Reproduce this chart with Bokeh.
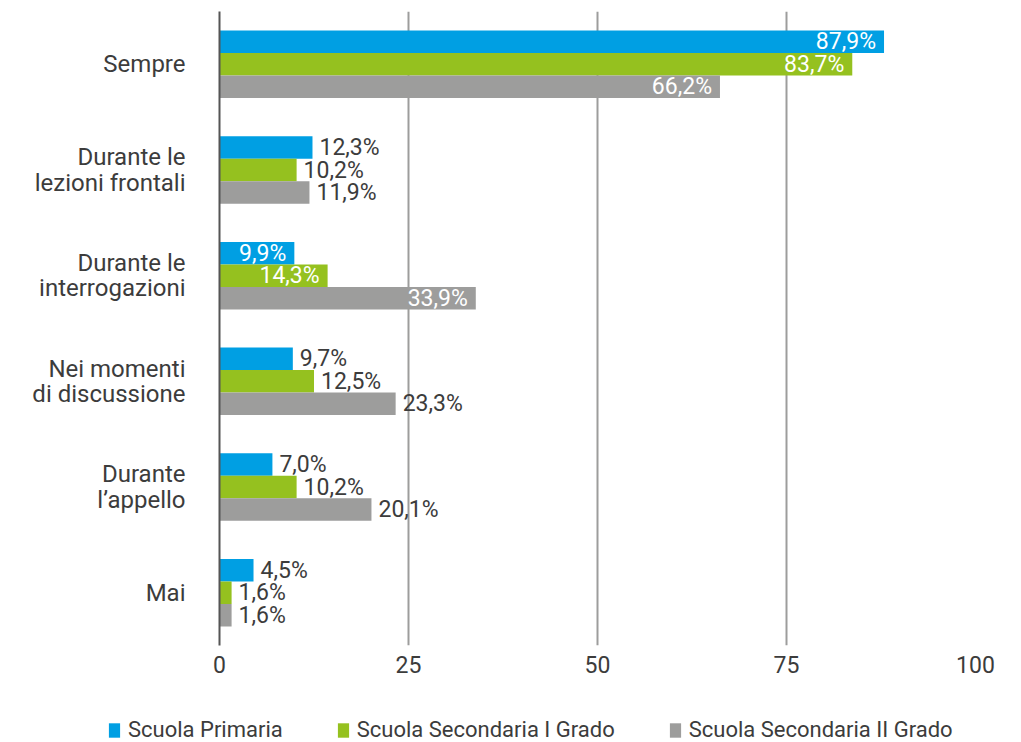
from bokeh.plotting import figure
from bokeh.layouts import column
from bokeh.models import ColumnDataSource, FactorRange, Range1d, FixedTicker, Legend, LegendItem
from bokeh.transform import dodge
from bokeh.core.properties import value
from bokeh.embed import file_html
from bokeh.resources import INLINE

# ---- data ----
categories = ["Sempre", "Durante le\nlezioni frontali", "Durante le\ninterrogazioni",
              "Nei momenti\ndi discussione", "Durante\nl\u2019appello", "Mai"]
series_names = ["Scuola Primaria", "Scuola Secondaria I Grado", "Scuola Secondaria II Grado"]
primaria = [87.9, 12.3, 9.9, 9.7, 7.0, 4.5]
secondaria_1 = [83.7, 10.2, 14.3, 12.5, 10.2, 1.6]
secondaria_2 = [66.2, 11.9, 33.9, 23.3, 20.1, 1.6]
x_ticks = [0, 25, 50, 75, 100]

# label placement (inside bar end = True)
inside_primaria = [True, False, True, False, False, False]
inside_sec1 = [True, False, True, False, False, False]
inside_sec2 = [True, False, True, False, False, False]

colors = ["#009FE3", "#95C11F", "#9D9D9C"]
offsets = [0.213, 0.0, -0.213]
bar_h = 0.213
FONT = "Roboto"
TXT = "#3c3c3c"

p = figure(
    y_range=FactorRange(factors=list(reversed(categories)), range_padding=0),
    x_range=Range1d(0, 100),
    frame_width=756, frame_height=634,
    min_border_left=219, min_border_right=46, min_border_top=11, min_border_bottom=53,
    output_backend="svg", toolbar_location=None,
)
p.outline_line_color = None
p.background_fill_color = "white"

all_series = [primaria, secondaria_1, secondaria_2]
all_inside = [inside_primaria, inside_sec1, inside_sec2]
for vals, inside, col, off in zip(all_series, all_inside, colors, offsets):
    src = ColumnDataSource(dict(
        cat=categories, val=vals,
        lab=[f"{v:.1f}".replace(".", ",") + "%" for v in vals],
        align=["right" if i else "left" for i in inside],
        xoff=[-8 if i else 7 for i in inside],
        tcol=["white" if i else TXT for i in inside],
    ))
    p.hbar(y=dodge("cat", off, range=p.y_range), right="val", left=0, height=bar_h,
           source=src, fill_color=col, line_color=None)
    p.text(x="val", y=dodge("cat", off, range=p.y_range), text="lab", source=src,
           text_align="align", x_offset="xoff", text_color="tcol",
           text_baseline="middle", text_font=value(FONT), text_font_size="23px")

# axes
p.xaxis.ticker = FixedTicker(ticks=x_ticks)
p.xaxis.axis_line_color = None
p.xaxis.major_tick_line_color = None
p.xaxis.minor_tick_line_color = None
p.xaxis.major_label_text_font = FONT
p.xaxis.major_label_text_font_size = "23px"
p.xaxis.major_label_text_color = TXT
p.xaxis.major_label_standoff = 4

p.yaxis.axis_line_color = "#555555"
p.yaxis.axis_line_width = 2
p.yaxis.major_tick_line_color = None
p.yaxis.minor_tick_line_color = None
p.yaxis.major_label_text_font = FONT
p.yaxis.major_label_text_font_size = "24px"
p.yaxis.major_label_text_color = TXT
p.yaxis.major_label_text_line_height = 0.9
p.yaxis.major_label_standoff = 28
p.yaxis.major_label_text_align = "right"

p.xgrid.grid_line_color = "#9D9D9C"
p.xgrid.grid_line_width = 2
p.ygrid.grid_line_color = None

# ---- legend strip (separate small figure below) ----
lg = figure(width=1021, height=44, x_range=Range1d(0, 1), y_range=Range1d(0, 1),
            min_border=0, output_backend="svg", toolbar_location=None)
lg.axis.visible = False
lg.grid.visible = False
lg.outline_line_color = None
for fig in (p, lg):
    if hasattr(fig, "frame_align"):
        fig.frame_align = False
# zero-length placeholder bars, only used as legend swatches
leg_renderers = [lg.hbar(y=[0.5], right=[0], left=[0], height=0.5, fill_color=c, line_color=None)
                 for c in colors]
legend = Legend(
    items=[LegendItem(label=n, renderers=[r]) for n, r in zip(series_names, leg_renderers)],
    orientation="horizontal", location=(107, 0),
    glyph_width=14, glyph_height=18, label_standoff=7, spacing=53,
    label_text_font=FONT, label_text_font_size="22px", label_text_color=TXT,
    border_line_color=None, background_fill_alpha=0, padding=0, margin=0,
)
lg.add_layout(legend, "center")

layout = column(p, lg, spacing=0)
open("out.html", "w").write(file_html(layout, INLINE))
